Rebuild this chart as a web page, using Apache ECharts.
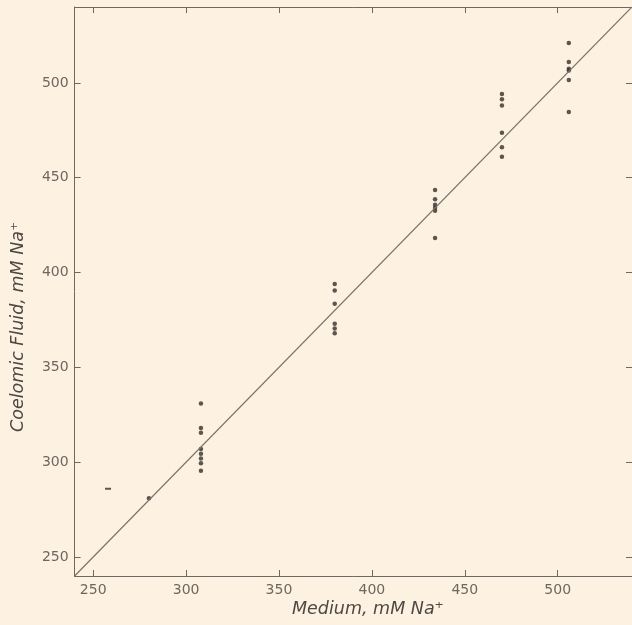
<!DOCTYPE html>
<html>
<head>
<meta charset="utf-8">
<script src="https://cdn.jsdelivr.net/npm/echarts@6/dist/echarts.min.js"></script>
<style>
html,body{margin:0;padding:0;background:#fdf2e1;}
#c{width:632px;height:625px;}
</style>
</head>
<body>
<div id="c"></div>
<script>
// Data (Medium mM Na+, Coelomic Fluid mM Na+)
var col258 = [286];
var col280 = [281];
var col308 = [331, 318, 315.5, 307, 304.5, 302, 299.5, 295.5];
var col380 = [394, 390.5, 383.5, 373, 370.5, 368];
var col434 = [443.5, 438.6, 435.8, 434.2, 432.6, 418.2];
var col470 = [494.1, 491.3, 488.1, 473.7, 466, 461];
var col506 = [521, 511, 507.5, 506.5, 501.5, 484.6];
var mediumValues = [258, 280, 308, 380, 434, 470, 506];
var coelomicColumns = [col258, col280, col308, col380, col434, col470, col506];
var tickValues = [250, 300, 350, 400, 450, 500];
var lineEnds = [240, 540];

var points = [];
mediumValues.forEach(function (m, i) {
  coelomicColumns[i].forEach(function (v) {
    if (i === 0) {
      points.push({ value: [m, v], symbol: 'rect', symbolSize: [6, 2] });
    } else {
      points.push([m, v]);
    }
  });
});

var axisColor = '#6f6862';
var labelColor = '#6e6760';
var font = 'DejaVu Sans';

function mkAxis(pos, showLabel, isX) {
  return {
    type: 'value', position: pos, min: 240, max: 540,
    axisLine: { show: true, lineStyle: { color: axisColor, width: 1 } },
    axisTick: { show: true, inside: true, length: 6, customValues: tickValues, lineStyle: { color: axisColor } },
    axisLabel: { show: showLabel, customValues: tickValues, color: labelColor, fontFamily: font, fontSize: 14, margin: isX ? 7 : 6 },
    splitLine: { show: false }
  };
}

var chart = echarts.init(document.getElementById('c'));
chart.setOption({
  backgroundColor: '#fdf2e1',
  animation: false,
  grid: { left: 74.6, top: 7, width: 562, height: 569 },
  xAxis: [mkAxis('bottom', true, true), mkAxis('top', false, true)],
  yAxis: [mkAxis('left', true, false), mkAxis('right', false, false)],
  series: [
    {
      type: 'line', data: [[lineEnds[0], lineEnds[0]], [lineEnds[1], lineEnds[1]]],
      symbol: 'none', lineStyle: { color: '#7a736c', width: 1.2 }, silent: true
    },
    {
      type: 'scatter', data: points, symbol: 'circle', symbolSize: 4.5,
      itemStyle: { color: '#342e2a' }
    }
  ],
  graphic: [
    {
      type: 'text', left: 292, top: 600,
      style: { text: 'Medium, mM Na\u207A', fill: '#4e4843', font: 'italic 17.5px "DejaVu Sans"' }
    },
    {
      type: 'text', x: 9, y: 432, rotation: Math.PI / 2,
      style: { text: 'Coelomic Fluid, mM Na\u207A', fill: '#4e4843', font: 'italic 17.5px "DejaVu Sans"', textVerticalAlign: 'top' }
    }
  ]
});
</script>
</body>
</html>
